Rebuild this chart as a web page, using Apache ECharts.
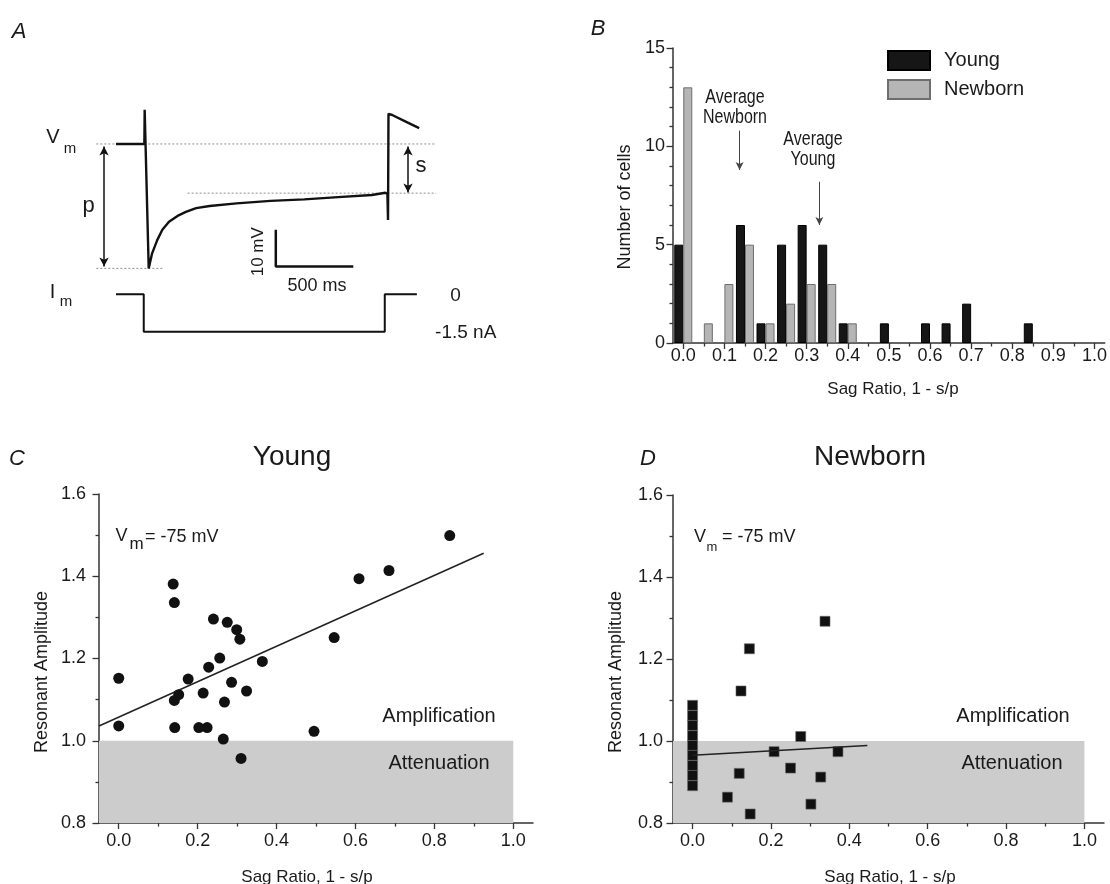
<!DOCTYPE html>
<html>
<head>
<meta charset="utf-8">
<script src="https://cdn.jsdelivr.net/npm/echarts@6/dist/echarts.min.js"></script>
<style>
html,body{margin:0;padding:0;background:#ffffff;}
#chart{width:1110px;height:884px;}
</style>
</head>
<body>
<div id="chart"></div>
<script>
// ---------------- DATA ----------------
// Panel A: membrane potential trace (time in ms, voltage in mV)
const traceT = [129, 312, 314, 340, 362, 395, 428, 471, 526, 580, 646, 733, 907, 1126, 1344, 1562, 1780, 1867, 1880, 1884, 1887, 1911, 1998, 2085];
const traceV = [-75.0, -75.0, -65.7, -108.9, -104.8, -101.2, -98.4, -96.2, -94.6, -93.5, -92.5, -91.9, -91.2, -90.5, -90.1, -89.5, -88.9, -88.3, -88.6, -95.7, -66.8, -67.1, -68.9, -70.7];
// Panel A: injected current (time in ms, current in nA)
const currentT = [129, 308, 308, 1863, 1863, 2070];
const currentI = [0, 0, -1.5, -1.5, 0, 0];
// Panel A: reference levels (mV) and their time spans (ms)
const vmRest = -75.0, vmPeak = -108.9, vmSteady = -88.4;
const restSpan = [2, 2194], peakSpan = [2, 439], steadySpan = [591, 2194];
// Panel A: p and s arrows (time, [from, to] mV)
const pArrowT = 52, pArrowV = [-75.7, -108.4];
const sArrowT = 2013, sArrowV = [-75.7, -88.2];
// Panel A: scale bar (10 mV, 500 ms)
const scaleBarT = [1160, 1160, 1660];
const scaleBarV = [-98.4, -108.4, -108.4];

// Panel B: histogram of sag ratio
const binCenters    = [0.0, 0.05, 0.1, 0.15, 0.2, 0.25, 0.3, 0.35, 0.4, 0.45, 0.5, 0.55, 0.6, 0.65, 0.7, 0.75, 0.8, 0.85];
const youngCounts   = [5,   0,    0,   6,    1,   5,    6,   5,    1,   0,    1,   0,    1,   1,    2,   0,    0,   1];
const newbornCounts = [13,  1,    3,   5,    1,   2,    3,   3,    1,   0,    0,   0,    0,   0,    0,   0,    0,   0];
const avgNewborn = 0.126, avgNewbornArrow = [10.8, 8.8];
const avgYoung = 0.32, avgYoungArrow = [8.2, 6.0];
const bTicks = [0, 0.1, 0.2, 0.3, 0.4, 0.5, 0.6, 0.7, 0.8, 0.9, 1.0];
const bMinorTicks = [0.05, 0.15, 0.25, 0.35, 0.45, 0.55, 0.65, 0.75, 0.85, 0.95];

// Panel C: Young cells
const youngSag = [0.0, 0.0, 0.138, 0.141, 0.141, 0.152, 0.142, 0.176, 0.203, 0.224, 0.214, 0.228, 0.240, 0.256, 0.275, 0.268, 0.265, 0.286, 0.299, 0.307, 0.310, 0.324, 0.364, 0.495, 0.546, 0.609, 0.685, 0.839];
const youngAmp = [1.152, 1.036, 1.381, 1.336, 1.098, 1.112, 1.032, 1.150, 1.032, 1.032, 1.116, 1.179, 1.296, 1.201, 1.288, 1.094, 1.004, 1.142, 1.270, 1.247, 0.957, 1.121, 1.193, 1.023, 1.251, 1.394, 1.414, 1.499];
const fitYoungX = [-0.05, 0.925];
const fitYoungY = [1.036, 1.456];

// Panel D: Newborn cells
const newbornSag = [0, 0, 0, 0, 0, 0, 0, 0, 0, 0.1235, 0.145, 0.338, 0.276, 0.208, 0.371, 0.250, 0.119, 0.327, 0.089, 0.302, 0.147];
const newbornAmp = [1.087, 1.062, 1.038, 1.013, 0.989, 0.965, 0.940, 0.916, 0.891, 1.122, 1.225, 1.292, 1.011, 0.974, 0.974, 0.934, 0.921, 0.912, 0.863, 0.846, 0.822];
const fitNewbornX = [0.0, 0.446];
const fitNewbornY = [0.965, 0.989];

// Shared axes for C and D
const cdTicks = [0, 0.2, 0.4, 0.6, 0.8, 1.0];
const cdMinorTicks = [0.1, 0.3, 0.5, 0.7, 0.9];
const attenuationX = [-0.05, 1.0], attenuationY = [0.8, 1.0];

// ---------------- HELPERS ----------------
const zip = (a, b) => a.map((v, i) => [v, b[i]]);
const binPairs = counts => binCenters.map((c, i) => [c, counts[i]]).filter(p => p[1] > 0);
const FONT = "'Liberation Sans', Arial, Helvetica, sans-serif";
const INK = '#1a1a1a';
const AX = '#333333';

function txt(text, x, y, size, extra, style) {
  return Object.assign({
    type: 'text', x: x, y: y, z: 100, silent: true,
    style: Object.assign({
      text: text, fontSize: size, fontFamily: FONT, fill: INK,
      align: 'center', verticalAlign: 'middle'
    }, style || {})
  }, extra || {});
}

const axisLineStyle = { show: true, onZero: false, lineStyle: { color: AX, width: 1.5 } };
const tickStyle = { color: AX, width: 1.3 };
const labelStyle = { fontSize: 18, fontFamily: FONT, color: INK };

function mainX(grid, min, max, ticks, margin) {
  return {
    gridIndex: grid, type: 'value', min: min, max: max, position: 'bottom',
    axisLine: axisLineStyle,
    axisTick: { show: true, inside: false, customValues: ticks, length: 6, lineStyle: tickStyle },
    axisLabel: Object.assign({ customValues: ticks, formatter: v => Number(v).toFixed(1), margin: margin }, labelStyle),
    splitLine: { show: false }
  };
}
function minorX(grid, min, max, ticks) {
  return {
    gridIndex: grid, type: 'value', min: min, max: max, position: 'bottom',
    axisLine: { show: false, onZero: false },
    axisTick: { show: true, inside: false, customValues: ticks, length: 3.5, lineStyle: tickStyle },
    axisLabel: { show: false },
    splitLine: { show: false }
  };
}
function ampY(grid, margin) {
  return {
    gridIndex: grid, type: 'value', min: 0.8, max: 1.6, interval: 0.2,
    axisLine: axisLineStyle,
    axisTick: { show: true, length: 6.5, lineStyle: tickStyle },
    minorTick: { show: true, splitNumber: 2, length: 3.5, lineStyle: tickStyle },
    axisLabel: Object.assign({ formatter: v => Number(v).toFixed(1), margin: margin }, labelStyle),
    splitLine: { show: false }, minorSplitLine: { show: false }
  };
}

// ---------------- OPTION ----------------
const option = {
  animation: false,
  backgroundColor: '#ffffff',
  grid: [
    { left: 96, top: 103.6, width: 341, height: 242.2 },   // A voltage
    { left: 96, top: 284.3, width: 341, height: 50 },      // A current
    { left: 673, top: 48, width: 432, height: 295 },       // B
    { left: 99, top: 494, width: 434, height: 329 },       // C
    { left: 673, top: 495, width: 431, height: 328 }       // D
  ],
  xAxis: [
    { gridIndex: 0, type: 'value', min: 0, max: 2200, show: false },
    { gridIndex: 1, type: 'value', min: 0, max: 2200, show: false },
    mainX(2, -0.025, 1.025, bTicks, 4),
    minorX(2, -0.025, 1.025, bMinorTicks),
    mainX(3, -0.05, 1.05, cdTicks, 9),
    minorX(3, -0.05, 1.05, cdMinorTicks),
    mainX(4, -0.05, 1.05, cdTicks, 9),
    minorX(4, -0.05, 1.05, cdMinorTicks)
  ],
  yAxis: [
    { gridIndex: 0, type: 'value', min: -130, max: -64, show: false },
    { gridIndex: 1, type: 'value', min: -1.6, max: 0.4, show: false },
    {
      gridIndex: 2, type: 'value', min: 0, max: 15, interval: 5,
      axisLine: axisLineStyle,
      axisTick: { show: true, length: 6.5, lineStyle: tickStyle },
      minorTick: { show: true, splitNumber: 5, length: 3.5, lineStyle: tickStyle },
      axisLabel: Object.assign({ margin: 8 }, labelStyle),
      splitLine: { show: false }, minorSplitLine: { show: false }
    },
    ampY(3, 13),
    ampY(4, 10)
  ],
  legend: {
    data: ['Young', 'Newborn'], left: 887, top: 50, orient: 'vertical',
    icon: 'rect', itemWidth: 42, itemHeight: 19, itemGap: 8, padding: 0,
    selectedMode: false,
    textStyle: { fontSize: 20, fontFamily: FONT, color: INK, padding: [0, 0, 0, 9] }
  },
  series: [
    // ----- Panel A -----
    {
      type: 'line', name: 'rest level', xAxisIndex: 0, yAxisIndex: 0, silent: true,
      data: [[restSpan[0], vmRest], [restSpan[1], vmRest]], symbol: 'none', z: 1,
      lineStyle: { color: '#8c8c8c', width: 1, type: [2, 2] }
    },
    {
      type: 'line', name: 'peak level', xAxisIndex: 0, yAxisIndex: 0, silent: true,
      data: [[peakSpan[0], vmPeak], [peakSpan[1], vmPeak]], symbol: 'none', z: 1,
      lineStyle: { color: '#8c8c8c', width: 1, type: [2, 2] }
    },
    {
      type: 'line', name: 'steady level', xAxisIndex: 0, yAxisIndex: 0, silent: true,
      data: [[steadySpan[0], vmSteady], [steadySpan[1], vmSteady]], symbol: 'none', z: 1,
      lineStyle: { color: '#8c8c8c', width: 1, type: [2, 2] }
    },
    {
      type: 'line', name: 'Vm', xAxisIndex: 0, yAxisIndex: 0, silent: true,
      data: zip(traceT, traceV), symbol: 'none', z: 3,
      lineStyle: { color: '#111111', width: 2.4 },
      markLine: {
        silent: true, symbol: ['arrow', 'arrow'], symbolSize: [7, 9],
        lineStyle: { color: '#111111', width: 1.5, type: 'solid' },
        label: { show: false },
        data: [
          [{ coord: [pArrowT, pArrowV[0]] }, { coord: [pArrowT, pArrowV[1]] }],
          [{ coord: [sArrowT, sArrowV[0]] }, { coord: [sArrowT, sArrowV[1]] }]
        ]
      }
    },
    {
      type: 'line', name: 'scale bar', xAxisIndex: 0, yAxisIndex: 0, silent: true,
      data: zip(scaleBarT, scaleBarV), symbol: 'none', z: 3,
      lineStyle: { color: '#111111', width: 2.5 }
    },
    {
      type: 'line', name: 'Im', xAxisIndex: 1, yAxisIndex: 1, silent: true,
      data: zip(currentT, currentI), symbol: 'none',
      lineStyle: { color: '#111111', width: 2 }
    },
    // ----- Panel B -----
    {
      type: 'bar', name: 'Young', xAxisIndex: 2, yAxisIndex: 2,
      data: binPairs(youngCounts), barWidth: 9, barGap: '0%',
      itemStyle: { color: '#161616', borderColor: '#000000', borderWidth: 1 }
    },
    {
      type: 'bar', name: 'Newborn', xAxisIndex: 2, yAxisIndex: 2,
      data: binPairs(newbornCounts), barWidth: 9, barGap: '0%',
      itemStyle: { color: '#b5b5b5', borderColor: '#6e6e6e', borderWidth: 1 },
      markLine: {
        silent: true, symbol: ['none', 'arrow'], symbolSize: [6, 8],
        lineStyle: { color: '#444444', width: 1, type: 'solid' },
        label: { show: false },
        data: [
          [{ coord: [avgNewborn, avgNewbornArrow[0]] }, { coord: [avgNewborn, avgNewbornArrow[1]] }],
          [{ coord: [avgYoung, avgYoungArrow[0]] }, { coord: [avgYoung, avgYoungArrow[1]] }]
        ]
      }
    },
    // ----- Panel C -----
    {
      type: 'line', name: 'Young fit', xAxisIndex: 4, yAxisIndex: 3, silent: true,
      data: zip(fitYoungX, fitYoungY), symbol: 'none', z: 2,
      lineStyle: { color: '#222222', width: 1.5 }
    },
    {
      type: 'scatter', name: 'Young cells', xAxisIndex: 4, yAxisIndex: 3, silent: true,
      data: zip(youngSag, youngAmp), symbol: 'circle', symbolSize: 11, z: 3,
      itemStyle: { color: '#111111', opacity: 1 },
      markArea: {
        silent: true, itemStyle: { color: '#cccccc', opacity: 1 },
        data: [[{ coord: [attenuationX[0], attenuationY[0]] }, { coord: [attenuationX[1], attenuationY[1]] }]]
      }
    },
    // ----- Panel D -----
    {
      type: 'line', name: 'Newborn fit', xAxisIndex: 6, yAxisIndex: 4, silent: true,
      data: zip(fitNewbornX, fitNewbornY), symbol: 'none', z: 4,
      lineStyle: { color: '#222222', width: 1.5 }
    },
    {
      type: 'scatter', name: 'Newborn cells', xAxisIndex: 6, yAxisIndex: 4, silent: true,
      data: zip(newbornSag, newbornAmp), symbol: 'rect', symbolSize: 10, z: 3,
      itemStyle: { color: '#111111', opacity: 1, borderColor: '#666666', borderWidth: 0.6 },
      markArea: {
        silent: true, itemStyle: { color: '#cccccc', opacity: 1 },
        data: [[{ coord: [attenuationX[0], attenuationY[0]] }, { coord: [attenuationX[1], attenuationY[1]] }]]
      }
    }
  ],
  graphic: { elements: [
    // Panel letters
    txt('A', 19, 32, 22, null, { fontStyle: 'italic' }),
    txt('B', 598, 29, 22, null, { fontStyle: 'italic' }),
    txt('C', 17, 459, 22, null, { fontStyle: 'italic' }),
    txt('D', 648, 459, 22, null, { fontStyle: 'italic' }),
    // Panel A labels
    txt('V', 53, 137, 20),
    txt('m', 70, 148.5, 15),
    txt('I', 52.5, 292, 20),
    txt('m', 66, 302, 15),
    txt('p', 88.6, 206, 22),
    txt('s', 421, 166, 22),
    txt('10 mV', 258.6, 251.7, 17, { rotation: Math.PI / 2 }),
    txt('500 ms', 317, 286, 18),
    txt('0', 455.5, 296, 19),
    txt('-1.5 nA', 465.7, 333, 19),
    // Panel B labels (condensed lettering)
    txt('Average\nNewborn', 735, 107, 20, { scaleX: 0.8 }, { lineHeight: 20 }),
    txt('Average\nYoung', 813, 149, 20, { scaleX: 0.8 }, { lineHeight: 20 }),
    txt('Number of cells', 625, 207, 18, { rotation: Math.PI / 2 }),
    txt('Sag Ratio, 1 - s/p', 893, 389, 17),
    // Panel C labels
    txt('Young', 292, 457, 28),
    txt('V', 121.5, 536.5, 18),
    txt('m', 136.5, 544, 17),
    txt('= -75 mV', 145, 537, 18, null, { align: 'left' }),
    txt('Amplification', 439, 716, 20),
    txt('Attenuation', 439, 763, 20),
    txt('Resonant Amplitude', 42.5, 672, 18, { rotation: Math.PI / 2 }),
    txt('Sag Ratio, 1 - s/p', 307, 877, 17),
    // Panel D labels
    txt('Newborn', 870, 457, 28),
    txt('V', 700, 537.5, 18),
    txt('m', 712, 547, 13),
    txt('= -75 mV', 722, 537.5, 18, null, { align: 'left' }),
    txt('Amplification', 1013, 716, 20),
    txt('Attenuation', 1012, 763, 20),
    txt('Resonant Amplitude', 616.5, 672, 18, { rotation: Math.PI / 2 }),
    txt('Sag Ratio, 1 - s/p', 890, 877, 17)
  ]}
};

const chart = echarts.init(document.getElementById('chart'), null, { renderer: 'canvas', width: 1110, height: 884 });
chart.setOption(option);
</script>
</body>
</html>
